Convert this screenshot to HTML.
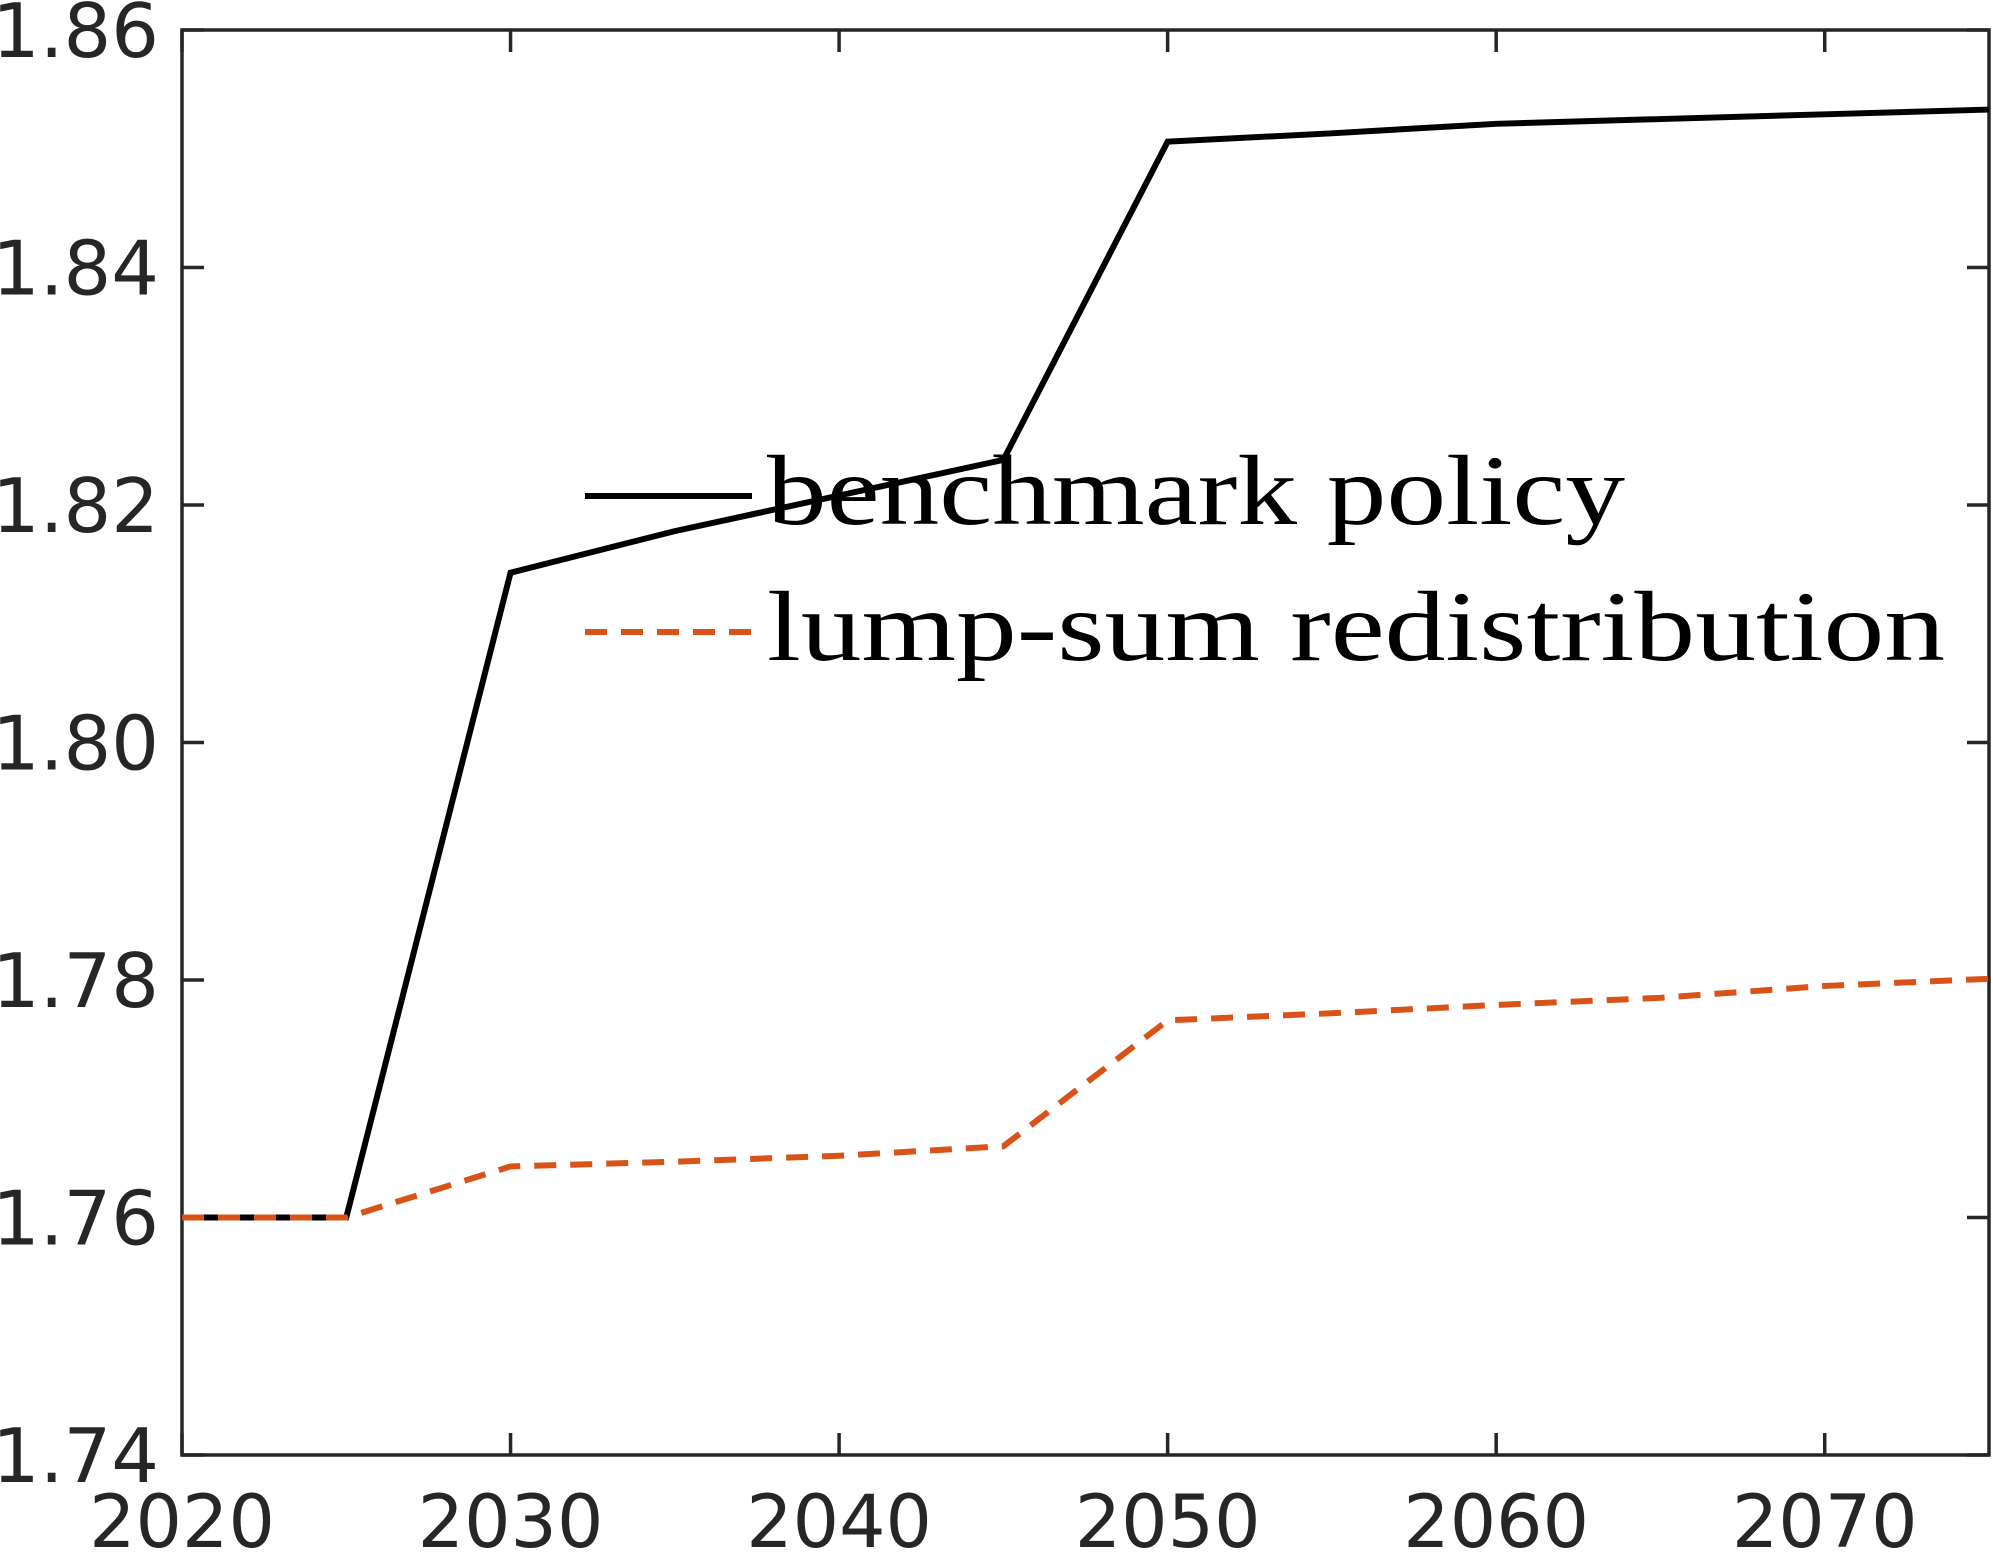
<!DOCTYPE html>
<html><head><meta charset="utf-8"><style>
html,body{margin:0;padding:0;background:#fff;width:1993px;height:1554px;overflow:hidden}
</style></head><body>
<svg id="chart" width="1993" height="1554" viewBox="0 0 1993 1554" xmlns="http://www.w3.org/2000/svg">
<g id="axes"></g>
<g id="series"></g>
<g id="legend">
  <line x1="585" y1="496" x2="752" y2="496" stroke="#000" stroke-width="6"/>
  <text x="767" y="524" font-family="'Liberation Serif', serif" font-size="100" textLength="858" lengthAdjust="spacingAndGlyphs" fill="#000">benchmark policy</text>
  <line x1="585" y1="632" x2="752" y2="632" stroke="#D95319" stroke-width="6" stroke-dasharray="22,14"/>
  <text x="767" y="660" font-family="'Liberation Serif', serif" font-size="100" textLength="1178" lengthAdjust="spacingAndGlyphs" fill="#000">lump-sum redistribution</text>
</g>
</svg>
<script>
const years = [2020,2025,2030,2035,2040,2045,2050,2055,2060,2065,2070,2075];
const benchmark = [1.76,1.76,1.8143,1.8178,1.8208,1.8238,1.8506,1.8513,1.8521,1.8525,1.8529,1.8533];
const lumpSum = [1.76,1.76,1.7643,1.7647,1.7652,1.766,1.7766,1.7772,1.7779,1.7785,1.7795,1.7801];
const xTicks = [2020,2030,2040,2050,2060,2070];
const yTicks = [1.74,1.76,1.78,1.80,1.82,1.84,1.86];
const yTickLabels = ["1.74","1.76","1.78","1.80","1.82","1.84","1.86"];

const L=182,R=1989,T=30,B=1455,xMin=2020,xMax=2075,yMin=1.74,yMax=1.86;
const sx=v=>L+(v-xMin)/(xMax-xMin)*(R-L);
const sy=v=>B-(v-yMin)/(yMax-yMin)*(B-T);
const NS="http://www.w3.org/2000/svg";
const axes=document.getElementById('axes'), series=document.getElementById('series');
function mk(tag,attrs,parent){const e=document.createElementNS(NS,tag);for(const k in attrs)e.setAttribute(k,attrs[k]);parent.appendChild(e);return e;}
const c="#262626", tl=22;
xTicks.forEach(t=>{
  const x=sx(t);
  const a=mk('line',{x1:x,y1:B,x2:x,y2:B-tl,stroke:c,'stroke-width':3.5},axes);
  
  
  const b=mk('line',{x1:x,y1:T,x2:x,y2:T+tl,stroke:c,'stroke-width':3.5},axes);
  
  
  const tx=mk('text',{x:x,y:1547,'text-anchor':'middle','font-family':"'DejaVu Sans','Liberation Sans',sans-serif",'font-size':73,fill:c},axes);
  tx.textContent=t;
  
  
});
yTicks.forEach((t,i)=>{
  const y=sy(t);
  const a=mk('line',{x1:L,y1:y,x2:L+tl,y2:y,stroke:c,'stroke-width':3.5},axes);
  
  
  const b=mk('line',{x1:R,y1:y,x2:R-tl,y2:y,stroke:c,'stroke-width':3.5},axes);
  
  
  const tx=mk('text',{x:159,y:y+27,'text-anchor':'end','font-family':"'DejaVu Sans','Liberation Sans',sans-serif",'font-size':75,fill:c},axes);
  tx.textContent=yTickLabels[i];
  
  
});
const box=mk('rect',{x:L,y:T,width:R-L,height:B-T,fill:'none',stroke:c,'stroke-width':3.5},axes);


const p1=mk('polyline',{points:years.map((y,i)=>sx(y)+','+sy(benchmark[i])).join(' '),fill:'none',stroke:'#000','stroke-width':6},series);


const p2=mk('polyline',{points:years.map((y,i)=>sx(y)+','+sy(lumpSum[i])).join(' '),fill:'none',stroke:'#D95319','stroke-width':6,'stroke-dasharray':'22,14'},series);


</script>
</body></html>
